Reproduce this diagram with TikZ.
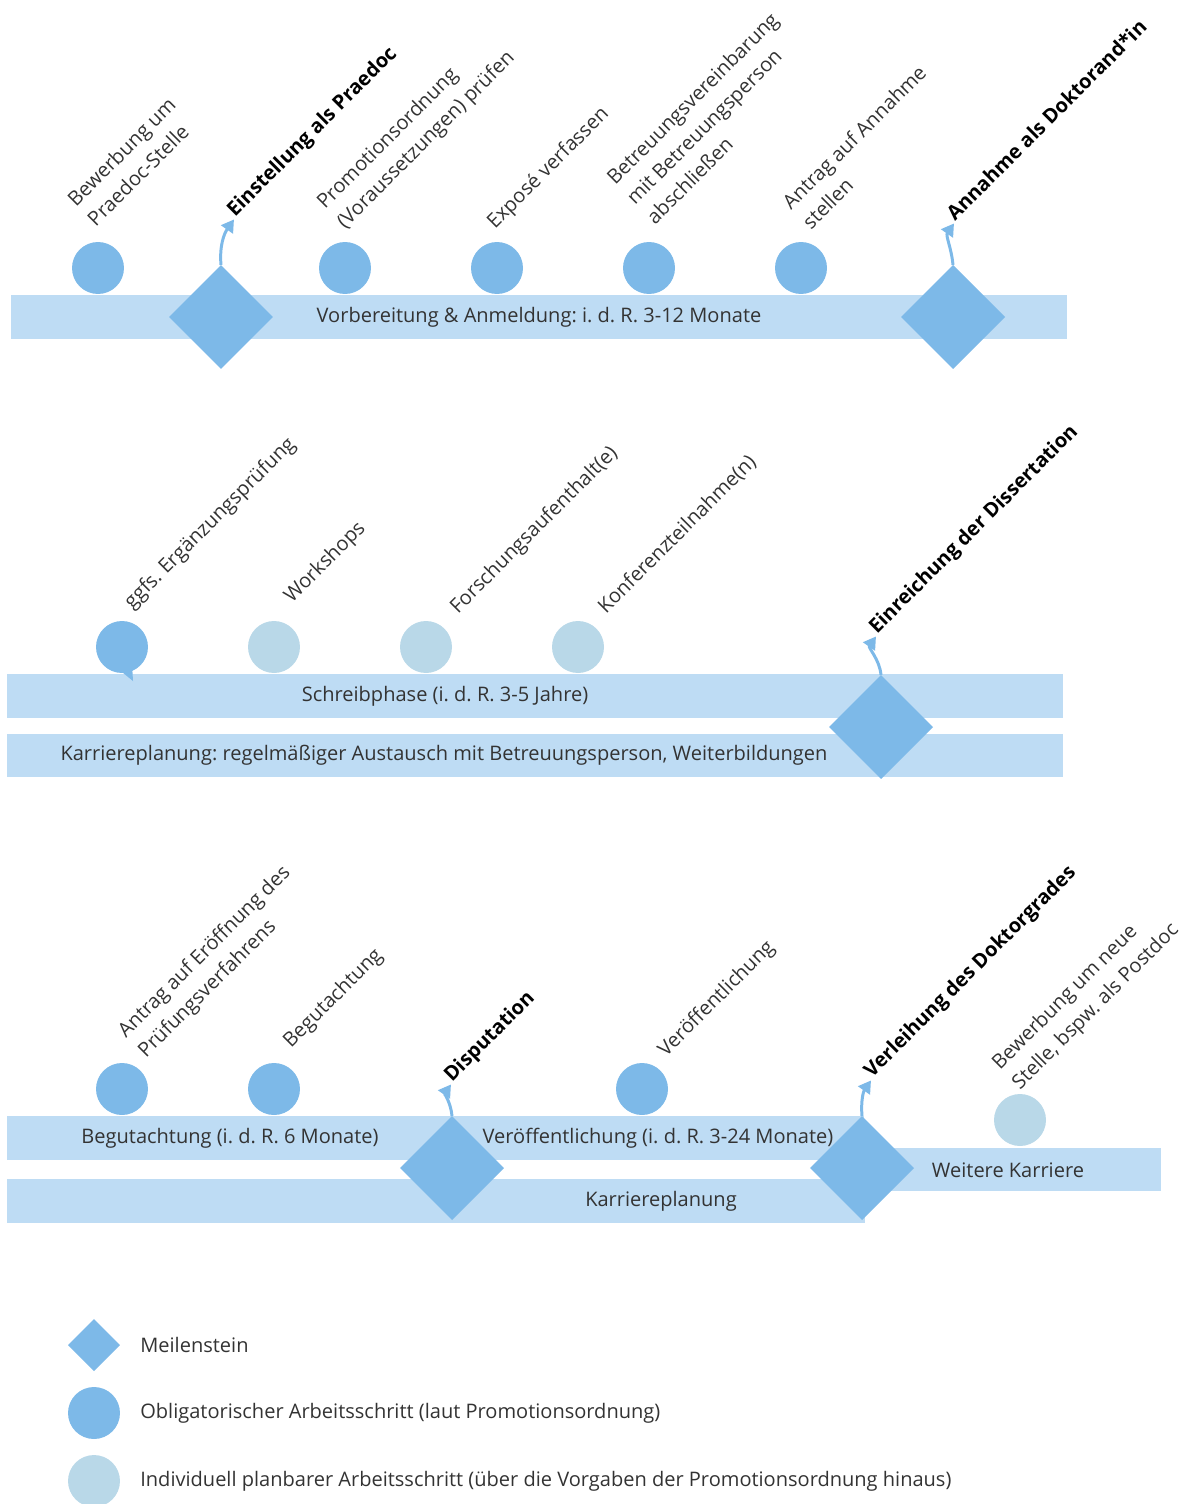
\documentclass[tikz,border=0pt]{standalone}
\usepackage{fontspec}
\setmainfont{Open Sans}
\usetikzlibrary{shapes.geometric,arrows.meta}
\frenchspacing

\definecolor{stonecol}{RGB}{125,185,232}
\definecolor{barcol}{RGB}{190,220,244}
\definecolor{optcol}{RGB}{185,216,232}
\definecolor{txtcol}{RGB}{51,51,51}

\tikzset{
  stonebox/.style={diamond, aspect=1, fill=stonecol, minimum size=2.08cm, inner sep=0pt, outer sep=0pt},
  stepdot/.style={circle, fill=stonecol, minimum size=1.04cm, inner sep=0pt},
  optdot/.style={circle, fill=optcol, minimum size=1.04cm, inner sep=0pt},
  bartext/.style={text=txtcol, font=\fontsize{11.4}{13}\selectfont, inner sep=0pt},
  steplabel/.style={xshift=0.16cm, yshift=-0.06cm, rotate=45, anchor=south west, inner sep=0pt, text depth=0pt, align=left, text=txtcol, font=\fontsize{11.4}{16}\selectfont},
  stonelabel/.style={steplabel, text=black, font=\fontsize{11.4}{16}\selectfont\bfseries},
  hookarrow/.style={draw=stonecol, line width=1.7pt, shorten >=1pt, -{Triangle[length=7pt,width=8pt]}},
}

\begin{document}
\begin{tikzpicture}[x=0.02cm, y=-0.02cm]
    \useasboundingbox (0,0) rectangle (1185,1504);

    % Zeile 1: Vorbereitung
    \fill[barcol] (11,295) rectangle (1067,339);
    \node[bartext] (t1) at (539,317) {Vorbereitung \& Anmeldung: i. d. R. 3-12 Monate};

    \node[stepdot] (a1) at (98,268) {};
    \node[stepdot] (a2) at (345,268) {};
    \node[stepdot] (a3) at (497,268) {};
    \node[stepdot] (a4) at (649,268) {};
    \node[stepdot] (a5) at (801,268) {};
    \node[stonebox] (m1) at (221,317) {};
    \node[stonebox] (m2) at (953,317) {};

    \node[steplabel] (la1) at (88,225) {Bewerbung um\\Praedoc-Stelle};
    \node[stonelabel] (lm1) at (227,215) {Einstellung als Praedoc};
    \node[steplabel] (la2) at (337,227) {Promotionsordnung\\(Voraussetzungen) prüfen};
    \node[steplabel] (la3) at (487,227) {Exposé verfassen};
    \node[steplabel] (la4) at (647,223) {Betreuungsvereinbarung\\mit Betreuungsperson\\abschließen};
    \node[steplabel] (la5) at (803,228) {Antrag auf Annahme\\stellen};
    \node[stonelabel] (lm2) at (947,219) {Annahme als Doktorand*in};

    \draw[hookarrow] (m1.north) to[out=95, in=235] (lm1.south west);
    \draw[hookarrow] (m2.north) to[out=95, in=235] (lm2.south west);

    % Zeile 2: Schreibphase
    \fill[barcol] (7,674) rectangle (1063,718);
    \fill[barcol] (7,734) rectangle (1063,777);
    \node[bartext] (t2) at (445,696) {Schreibphase (i. d. R. 3-5 Jahre)};
    \node[bartext] (t3) at (444,755) {Karriereplanung: regelmäßiger Austausch mit Betreuungsperson, Weiterbildungen};

    \node[stepdot] (b1) at (122,647) {};
    \fill[stonecol] (117,668) -- (133,681) -- (132,664) -- cycle; % Sprechblase
    \node[optdot] (b2) at (274,647) {};
    \node[optdot] (b3) at (426,647) {};
    \node[optdot] (b4) at (578,647) {};
    \node[stonebox] (m3) at (881,727) {};

    \node[steplabel] (lb1) at (124,607) {ggfs. Ergänzungsprüfung};
    \node[steplabel] (lb2) at (284,601) {Workshops};
    \node[steplabel] (lb3) at (450,612) {Forschungsaufenthalt(e)};
    \node[steplabel] (lb4) at (598,612) {Konferenzteilnahme(n)};
    \node[stonelabel] (lm3) at (869,632) {Einreichung der Dissertation};

    \draw[hookarrow] (m3.north) to[out=95, in=235] (lm3.south west);

    % Zeile 3: Begutachtung
    \fill[barcol] (7,1116) rectangle (864,1160);
    \fill[barcol] (7,1179) rectangle (865,1223);
    \fill[barcol] (870,1148) rectangle (1161,1191);
    \node[bartext] (t4) at (230,1138) {Begutachtung (i. d. R. 6 Monate)};
    \node[bartext] (t5) at (658,1138) {Veröffentlichung (i. d. R. 3-24 Monate)};
    \node[bartext] (t6) at (661,1201) {Karriereplanung};
    \node[bartext] (t7) at (1008,1170) {Weitere Karriere};

    \node[stepdot] (c1) at (122,1089) {};
    \node[stepdot] (c2) at (274,1089) {};
    \node[stepdot] (c3) at (642,1089) {};
    \node[optdot] (c4) at (1020,1120) {};
    \node[stonebox] (m4) at (452,1168) {};
    \node[stonebox] (m5) at (862,1168) {};

    \node[steplabel] (lc1) at (138,1056) {Antrag auf Eröffnung des\\Prüfungsverfahrens};
    \node[steplabel] (lc2) at (283,1046) {Begutachtung};
    \node[stonelabel] (lm4) at (444,1080) {Disputation};
    \node[steplabel] (lc3) at (658,1055) {Veröffentlichung};
    \node[stonelabel] (lm5) at (864,1076) {Verleihung des Doktorgrades};
    \node[steplabel] (lc4) at (1012,1088) {Bewerbung um neue\\Stelle, bspw. als Postdoc};

    \draw[hookarrow] (m4.north) to[out=95, in=235] (lm4.south west);
    \draw[hookarrow] (m5.north) to[out=95, in=235] (lm5.south west);

    % Legende
    \node[stonebox, minimum size=1.04cm] (k1) at (94,1345) {};
    \node[stepdot] (k2) at (94,1413) {};
    \node[optdot] (k3) at (94,1481) {};
    \node[bartext, anchor=west] (tk1) at (140,1345) {Meilenstein};
    \node[bartext, anchor=west] (tk2) at (140,1413) {Obligatorischer Arbeitsschritt (laut Promotionsordnung)};
    \node[bartext, anchor=west] (tk3) at (140,1481) {Individuell planbarer Arbeitsschritt (über die Vorgaben der Promotionsordnung hinaus)};
\end{tikzpicture}
\end{document}
